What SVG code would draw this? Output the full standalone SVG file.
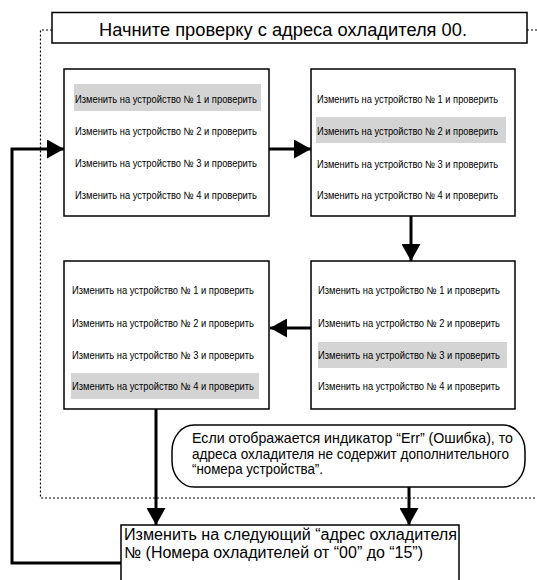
<svg xmlns="http://www.w3.org/2000/svg" width="537" height="580" viewBox="0 0 537 580">
<style>
  .box{fill:#fff;stroke:#000;stroke-width:1.5}
  .hl{fill:#d4d4d4}
  .row{font-family:"Liberation Sans",Arial,sans-serif;font-size:10.5px;fill:#000}
  .big{font-family:"Liberation Sans",Arial,sans-serif;font-size:17.5px;fill:#000}
  .low{font-family:"Liberation Sans",Arial,sans-serif;font-size:16px;fill:#000}
  .call{font-family:"Liberation Sans",Arial,sans-serif;font-size:14.5px;fill:#000}
  .dot{fill:none;stroke:#000;stroke-width:1.2;stroke-dasharray:2 2}
  .con{fill:none;stroke:#000;stroke-width:3}
</style>
<defs>
  <marker id="ah" markerUnits="userSpaceOnUse" markerWidth="17" markerHeight="19" refX="17" refY="9.5" orient="auto">
    <path d="M0,0 L17,9.5 L0,19 z" fill="#000"/>
  </marker>
</defs>
<rect width="537" height="580" fill="#fff"/>
<g id="dotted-frame">
  <path class="dot" d="M52,30 H40.5 V498 H537"/>
  <path class="dot" d="M527,30 H537"/>
</g>
<g id="start">
  <rect class="box" x="52" y="12.5" width="475" height="30.5" stroke-width="1.2"/>
  <text class="big" x="99" y="35.5" textLength="368" lengthAdjust="spacingAndGlyphs">Начните проверку с адреса охладителя 00.</text>
</g>
<g id="box1">
  <rect class="box" x="64" y="69" width="205" height="147"/>
  <rect class="hl" x="74" y="84" width="187" height="27"/>
  <text class="row" x="75" y="103" textLength="182" lengthAdjust="spacingAndGlyphs">Изменить на устройство № 1 и проверить</text>
  <text class="row" x="75" y="135" textLength="182" lengthAdjust="spacingAndGlyphs">Изменить на устройство № 2 и проверить</text>
  <text class="row" x="75" y="167" textLength="182" lengthAdjust="spacingAndGlyphs">Изменить на устройство № 3 и проверить</text>
  <text class="row" x="75" y="199" textLength="182" lengthAdjust="spacingAndGlyphs">Изменить на устройство № 4 и проверить</text>
</g>
<g id="box2">
  <rect class="box" x="311" y="69" width="204" height="147"/>
  <rect class="hl" x="316" y="117" width="190" height="26"/>
  <text class="row" x="317" y="103" textLength="181" lengthAdjust="spacingAndGlyphs">Изменить на устройство № 1 и проверить</text>
  <text class="row" x="317" y="135" textLength="181" lengthAdjust="spacingAndGlyphs">Изменить на устройство № 2 и проверить</text>
  <text class="row" x="317" y="168" textLength="181" lengthAdjust="spacingAndGlyphs">Изменить на устройство № 3 и проверить</text>
  <text class="row" x="317" y="199" textLength="181" lengthAdjust="spacingAndGlyphs">Изменить на устройство № 4 и проверить</text>
</g>
<g id="box3">
  <rect class="box" x="64" y="261" width="205" height="148"/>
  <rect class="hl" x="71" y="373" width="188" height="26"/>
  <text class="row" x="72" y="294" textLength="182" lengthAdjust="spacingAndGlyphs">Изменить на устройство № 1 и проверить</text>
  <text class="row" x="72" y="327" textLength="182" lengthAdjust="spacingAndGlyphs">Изменить на устройство № 2 и проверить</text>
  <text class="row" x="72" y="359" textLength="182" lengthAdjust="spacingAndGlyphs">Изменить на устройство № 3 и проверить</text>
  <text class="row" x="72" y="390" textLength="182" lengthAdjust="spacingAndGlyphs">Изменить на устройство № 4 и проверить</text>
</g>
<g id="box4">
  <rect class="box" x="311" y="261" width="204" height="148"/>
  <rect class="hl" x="318" y="342" width="189" height="26"/>
  <text class="row" x="318" y="294" textLength="182" lengthAdjust="spacingAndGlyphs">Изменить на устройство № 1 и проверить</text>
  <text class="row" x="318" y="327" textLength="182" lengthAdjust="spacingAndGlyphs">Изменить на устройство № 2 и проверить</text>
  <text class="row" x="318" y="359" textLength="182" lengthAdjust="spacingAndGlyphs">Изменить на устройство № 3 и проверить</text>
  <text class="row" x="318" y="390" textLength="182" lengthAdjust="spacingAndGlyphs">Изменить на устройство № 4 и проверить</text>
</g>
<g id="note">
  <rect class="box" x="172" y="425" width="353" height="62" rx="22" ry="26" stroke-width="1.2"/>
  <text class="call" x="192" y="443" textLength="321" lengthAdjust="spacingAndGlyphs">Если отображается индикатор “Err” (Ошибка), то</text>
  <text class="call" x="192" y="459" textLength="317" lengthAdjust="spacingAndGlyphs">адреса охладителя не содержит дополнительного</text>
  <text class="call" x="192" y="474" textLength="131" lengthAdjust="spacingAndGlyphs">“номера устройства”.</text>
</g>
<g id="next">
  <rect class="box" x="121" y="525" width="338" height="70" stroke-width="1.2"/>
  <text class="low" x="124" y="540" textLength="333" lengthAdjust="spacingAndGlyphs">Изменить на следующий “адрес охладителя</text>
  <text class="low" x="124" y="558" textLength="299" lengthAdjust="spacingAndGlyphs">№ (Номера охладителей от “00” до “15”)</text>
</g>
<g id="connectors">
  <path class="con" d="M269,149 H311" marker-end="url(#ah)"/>
  <path class="con" d="M411,216 V261" marker-end="url(#ah)"/>
  <path class="con" d="M311,328 H270" marker-end="url(#ah)"/>
  <path class="con" d="M156,409 V525" marker-end="url(#ah)"/>
  <path class="con" d="M409,487 V525" marker-end="url(#ah)"/>
  <path class="con" d="M121,563 H12 V149 H64" marker-end="url(#ah)"/>
</g>
</svg>
